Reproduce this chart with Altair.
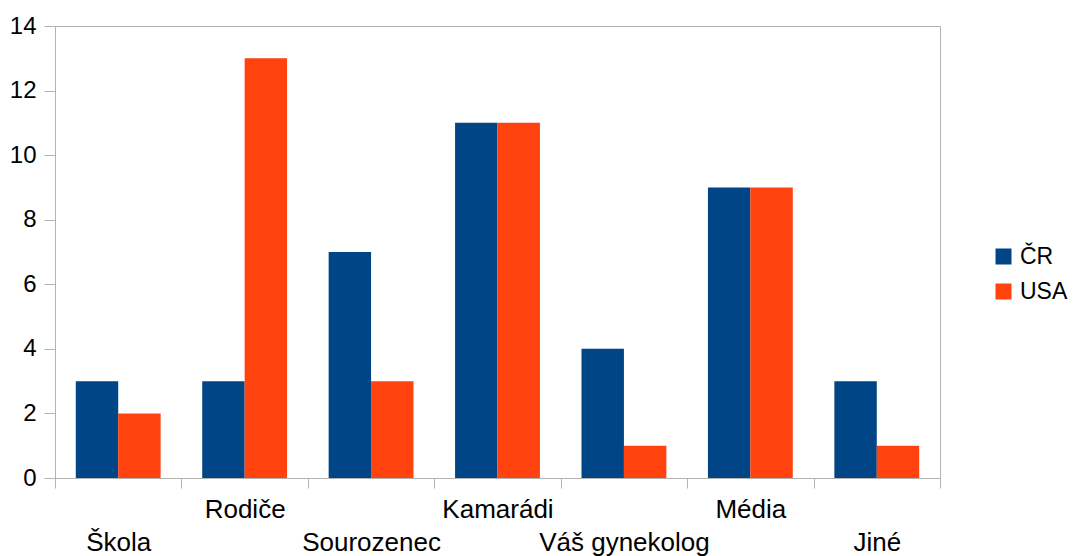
import altair as alt
import pandas as pd

categories = ["Škola", "Rodiče", "Sourozenec", "Kamarádi", "Váš gynekolog", "Média", "Jiné"]
series = ["ČR", "USA"]
cr_values = [3, 3, 7, 11, 4, 9, 3]
usa_values = [2, 13, 3, 11, 1, 9, 1]
colors = ["#004586", "#ff420e"]

rows = []
for cat, a, b in zip(categories, cr_values, usa_values):
    rows.append({"kategorie": cat, "zeme": series[0], "pocet": a})
    rows.append({"kategorie": cat, "zeme": series[1], "pocet": b})
df = pd.DataFrame(rows)

font = "Liberation Sans"
grey = "#b3b3b3"

# alternate category labels between two rows
cat_list = "[" + ",".join("'" + c + "'" for c in categories) + "]"
label_expr = f"indexof({cat_list}, datum.value) % 2 == 0 ? ['', datum.label] : datum.label"

chart = alt.Chart(df).mark_bar().encode(
    x=alt.X(
        "kategorie:N",
        sort=categories,
        title=None,
        scale=alt.Scale(paddingInner=0, paddingOuter=0),
        axis=alt.Axis(
            labelAngle=0,
            labelExpr=label_expr,
            labelFont=font,
            labelFontSize=26,
            labelColor="#000000",
            labelPadding=8,
            labelLineHeight=33,
            labelBaseline="top",
            tickBand="extent",
            tickSize=10,
            tickColor=grey,
            domainColor=grey,
            labelOverlap=False,
        ),
    ),
    xOffset=alt.XOffset(
        "zeme:N",
        sort=series,
        scale=alt.Scale(paddingInner=0, paddingOuter=0.49),
    ),
    y=alt.Y(
        "pocet:Q",
        title=None,
        scale=alt.Scale(domain=[0, 14]),
        axis=alt.Axis(
            values=[0, 2, 4, 6, 8, 10, 12, 14],
            grid=False,
            labelFont=font,
            labelFontSize=24,
            labelColor="#000000",
            labelPadding=8,
            tickSize=11,
            tickColor=grey,
            domainColor=grey,
        ),
    ),
    color=alt.Color(
        "zeme:N",
        sort=series,
        scale=alt.Scale(domain=series, range=colors),
        legend=alt.Legend(
            title=None,
            orient="none",
            legendX=937,
            legendY=219,
            padding=0,
            symbolType="square",
            symbolSize=256,
            symbolStrokeWidth=0,
            labelFont=font,
            labelFontSize=23,
            labelColor="#000000",
            labelOffset=5,
            rowPadding=11,
        ),
    ),
).properties(
    width=885,
    height=452,
    autosize=alt.AutoSizeParams(type="none"),
    padding={"left": 55, "top": 26, "right": 135, "bottom": 78},
).configure_view(
    stroke=grey,
    strokeWidth=1,
)

chart.save("out.html", embed_options={"renderer": "svg", "actions": False})
